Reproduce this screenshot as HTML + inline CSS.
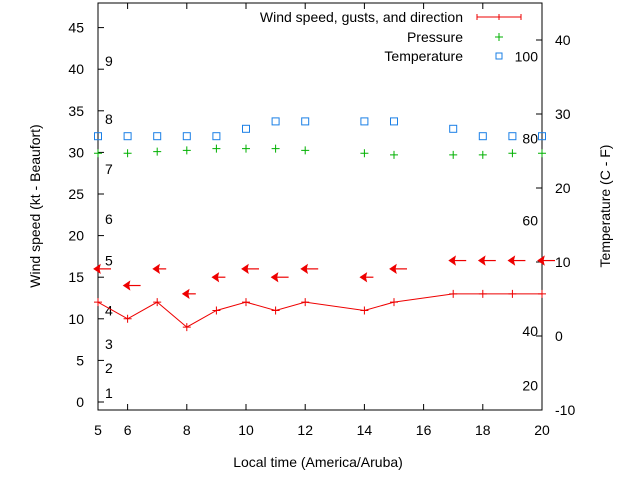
<!DOCTYPE html>
<html><head><meta charset="utf-8"><style>
body{margin:0;background:#fff}
svg{display:block;font-family:"Liberation Sans",sans-serif;font-size:14px}
</style></head><body>
<svg id="c" width="640" height="480" xmlns="http://www.w3.org/2000/svg"></svg>
<script>
const hours=[5,6,7,8,9,10,11,12,14,15,17,18,19,20];
const windSpeed=[12,10,12,9,11,12,11,12,11,12,13,13,13,13];
const gusts=[16,14,16,13,15,16,15,16,15,16,17,17,17,17];
const arrowLen=[12,12,8,8,8,12,12,12,8,12,12,12,12,12];
const pressure=[29.9,29.9,30.1,30.25,30.45,30.45,30.45,30.25,29.9,29.7,29.7,29.7,29.9,29.9];
const temperature=[27,27,27,27,27,28,29,29,29,29,28,27,27,27];
const leftTicks=[0,5,10,15,20,25,30,35,40,45];
const rightTicks=[-10,0,10,20,30,40];
const xTicks=[6,8,10,12,14,16,18,20];
const beaufort=[1,2,3,4,5,6,7,8,9];
const beaufortKt=[1.1,4.1,7,11,17,22,28,34,41];
const fahr=[20,40,60,80,100];
const fahrPos=[-6.7,0.7,15.6,26.7,37.8];

const L=98,R=542,T=3,B=410;
const x=h=>L+(h-5)*(R-L)/15;
const yl=v=>402-v*8.32;
const yr=v=>410-(v+10)*7.4;
const svg=document.getElementById('c');
const NS='http://www.w3.org/2000/svg';
function mk(tag,attrs,parent){const e=document.createElementNS(NS,tag);for(const k in attrs)e.setAttribute(k,attrs[k]);(parent||svg).appendChild(e);return e;}
function txt(s,xx,yy,anchor,parent){const e=mk('text',{x:xx,y:yy,'text-anchor':anchor||'start',fill:'#000'},parent);e.textContent=s;return e;}

let e;
e=mk('rect',{x:L,y:T,width:R-L,height:B-T,fill:'none',stroke:'#000','stroke-width':1});



const gl=mk('g',{});


leftTicks.forEach(v=>{const y=yl(v);mk('line',{x1:L,x2:L+6,y1:y,y2:y,stroke:'#000'},gl);txt(String(v),84,y+5,'end',gl);});
const gr=mk('g',{});


rightTicks.forEach(v=>{const y=yr(v);mk('line',{x1:R-6,x2:R,y1:y,y2:y,stroke:'#000'},gr);txt(String(v),555,y+5,'start',gr);});
const gx=mk('g',{});


xTicks.forEach(v=>{const xx=x(v);mk('line',{x1:xx,x2:xx,y1:B,y2:B-6,stroke:'#000'},gx);mk('line',{x1:xx,x2:xx,y1:T,y2:T+6,stroke:'#000'},gx);txt(String(v),xx,435,'middle',gx);});
txt('5',L,435,'middle',gx);

const gb=mk('g',{});


beaufort.forEach((b,i)=>txt(String(b),105,yl(beaufortKt[i])+5,'start',gb));
const gf=mk('g',{});


fahr.forEach((f,i)=>txt(String(f),538,yr(fahrPos[i])+5,'end',gf));

e=txt('Wind speed (kt - Beaufort)',0,0,'middle');
e.setAttribute('transform','translate(40,206) rotate(-90)');


e=txt('Temperature (C - F)',0,0,'middle');
e.setAttribute('transform','translate(610,206) rotate(-90)');


e=txt('Local time (America/Aruba)',318,467,'middle');



const gt=mk('g',{});


hours.forEach((h,i)=>{const p=mk('rect',{x:x(h)-3.5,y:yr(temperature[i])-3.5,width:7,height:7,fill:'none',stroke:'#1a7fe6','stroke-width':1},gt);

});
const gp=mk('g',{});


hours.forEach((h,i)=>{const xx=x(h),y=yl(pressure[i]);const p=mk('path',{d:`M${xx-4},${y}H${xx+4}M${xx},${y-4}V${y+4}`,stroke:'#00b000','stroke-width':1},gp);

});
const gw=mk('g',{});


let d='';hours.forEach((h,i)=>{d+=(i?'L':'M')+x(h)+','+yl(windSpeed[i]);});
e=mk('path',{d:d,fill:'none',stroke:'#e00','stroke-width':1},gw);


hours.forEach((h,i)=>{const xx=x(h),y=yl(windSpeed[i]);const p=mk('path',{d:`M${xx-4},${y}H${xx+4}M${xx},${y-4}V${y+4}`,stroke:'#e00'},gw);

});
const ga=mk('g',{});


hours.forEach((h,i)=>{const xx=x(h)-4,y=yl(gusts[i]);const g=mk('g',{},ga);


mk('path',{d:`M${xx},${y}L${xx+6},${y-4}L${xx+5},${y}L${xx+6},${y+4}Z`,fill:'#e00',stroke:'#e00','stroke-width':1},g);
mk('line',{x1:xx+5,x2:xx+5+arrowLen[i],y1:y,y2:y,stroke:'#e00','stroke-width':1.2},g);});

const lg=mk('g',{});


txt('Wind speed, gusts, and direction',463,22,'end',lg);
mk('path',{d:'M477,17H521M477,14V20M521,14V20M499,14V20',stroke:'#e00'},lg);
txt('Pressure',463,42,'end',lg);
mk('path',{d:'M495,37H503M499,33V41',stroke:'#00b000'},lg);
txt('Temperature',463,61,'end',lg);
mk('rect',{x:496,y:53,width:6,height:6,fill:'none',stroke:'#1a7fe6'},lg);
</script>
</body></html>
